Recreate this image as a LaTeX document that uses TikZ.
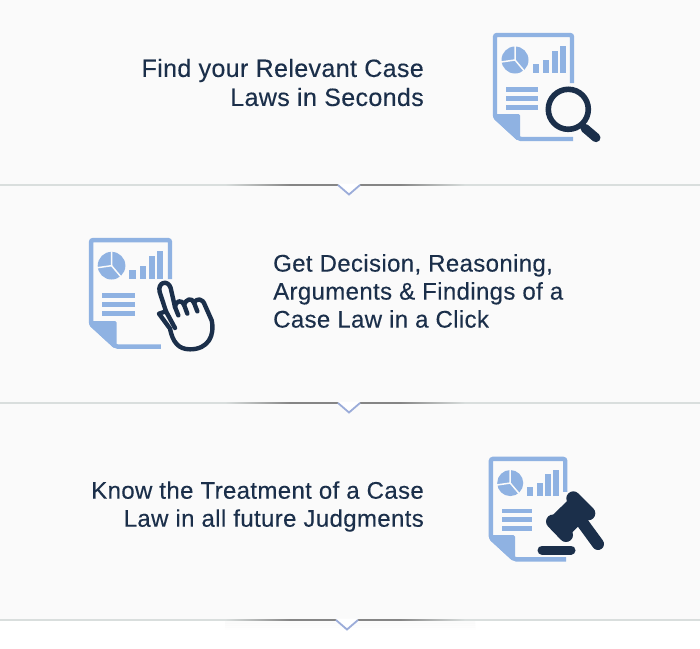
\documentclass[tikz,border=0pt]{standalone}
\usepackage{fontspec}
\setmainfont[LetterSpace=1.5,FakeBold=0.25]{Liberation Sans}
\definecolor{panel}{HTML}{FAFAFA}
\definecolor{docblue}{HTML}{8FB2E2}
\definecolor{inkblue}{HTML}{1B2F4A}
\definecolor{seplight}{HTML}{D9DEDD}
\definecolor{sepdark}{HTML}{858585}
\definecolor{notch}{HTML}{9BACD9}
% right: where the right edge stops, bottom: where the bottom edge stops
\newcommand{\docicon}[2]{
  \draw[docedge] (79,#1) -- (79,2) -- (2,2) -- (2,84) -- (26,106) -- (#2,106);
  \fill[docblue, rounded corners=1.5pt] (0,81) -- (27,81) -- (27,106) -- (25,108) -- (0,85) -- cycle;
  \fill[docblue] (22,27) circle (13.5);
  \draw[panel, line width=1.5pt] (22,13) -- (22,27) -- (8,29);
  \draw[panel, line width=1.5pt] (22,27) -- (33,40);
  \foreach \bx/\btop in {39.5/31, 49.5/27, 58.5/18, 66.5/13}
    \fill[docblue] (\bx,\btop) rectangle +(6,40-\btop);
  \foreach \ly in {53.5,62.5,71.5}
    \fill[docblue] (13,\ly) rectangle +(32,5);
}
\newcommand{\sepline}[2]{
  \foreach \sy/\sop in {1/.8, 3/.55, 5/.3, 7/.15}
    \shade[left color=panel, middle color=black!14, right color=panel, opacity=\sop] (225,#1+\sy) rectangle (475,#1+\sy+2);
  \fill[seplight] (0,#1-1) rectangle (700,#1+1);
  \shade[left color=seplight, right color=sepdark] (225,#1-.8) rectangle (290,#1+.8);
  \fill[sepdark] (290,#1-.8) rectangle (400,#1+.8);
  \shade[left color=sepdark, right color=seplight] (400,#1-.8) rectangle (465,#1+.8);
  \fill[white] (#2-12,#1-1.5) -- (#2+12,#1-1.5) -- (#2,#1+10) -- cycle;
  \draw[notch, line width=1.8pt] (#2-11,#1) -- (#2,#1+9.5) -- (#2+11,#1);
}
\begin{document}
\begin{tikzpicture}[x=1pt, y=-1pt]
  %
  \tikzstyle{docedge} = [draw=docblue, line width=4.4pt, rounded corners=2pt]
  \tikzstyle{tool} = [draw=inkblue, line cap=round]
  \tikzstyle{casetext} = [text=inkblue, font=\fontsize{24}{28}\selectfont, inner sep=0pt]
  \useasboundingbox (0,0) rectangle (700,648);
  \fill[white] (0,0) rectangle (700,648);
  \fill[panel] (0,0) rectangle (700,620);
  \sepline{185}{349}
  \sepline{403}{349}
  \sepline{620}{347}
  %
  \node[casetext, font=\fontsize{25}{29}\selectfont, align=right, anchor=east] (find) at (424,82.5) {Find your Relevant Case\\Laws in Seconds};
  \node[casetext, align=left, anchor=west] (decision) at (273,291) {Get Decision, Reasoning,\\Arguments \& Findings of a\\Case Law in a Click};
  \node[casetext, align=right, anchor=east] (treatment) at (424,506.5) {Know the Treatment of a Case\\Law in all future Judgments};
  %
  \begin{scope}[shift={(493,33)}]
    \docicon{50}{80}
  \end{scope}
  \draw[tool, fill=panel, line width=5.6pt] (568.3,109.3) circle (20);
  \draw[tool, line width=9pt] (585,128.3) -- (596,137.7);
  %
  \begin{scope}[shift={(89,238)}, scale=1.025]
    \docicon{40}{70}
  \end{scope}
  \begin{scope}[shift={(150,272)}, x=.3333pt, y=-.3333pt]
    \draw[tool, fill=panel, line width=4.4pt, line join=round]
      (27,125) -- (48,118) -- (29,60) .. controls (22,30) and (54,22) .. (62,48)
      -- (75,105) .. controls (78,85) and (95,82) .. (102,98)
      .. controls (108,82) and (125,75) .. (132,92)
      .. controls (140,78) and (158,78) .. (165,100)
      -- (185,145) .. controls (195,190) and (175,232) .. (120,232)
      .. controls (85,232) and (68,210) .. (60,170) -- cycle;
    \draw[tool, line width=4.4pt] (48,118) -- (75,168);
    \draw[tool, line width=4.4pt] (75,105) -- (85,130);
    \draw[tool, line width=4.4pt] (102,98) -- (112,125);
    \draw[tool, line width=4.4pt] (132,92) -- (142,118);
  \end{scope}
  %
  \begin{scope}[shift={(489,457)}, scale=.965]
    \docicon{36}{80}
  \end{scope}
  \draw[tool, line width=14pt] (573.3,498.3) -- (588.3,513.3);
  \draw[tool, line width=14pt] (553,521.5) -- (566,535);
  \draw[draw=inkblue, line width=26pt] (580.7,506) -- (558.3,527.7);
  \draw[tool, line width=12pt] (581.7,521.7) -- (598,544);
  \draw[tool, line width=9pt] (542,550) -- (571,550);
\end{tikzpicture}
\end{document}
